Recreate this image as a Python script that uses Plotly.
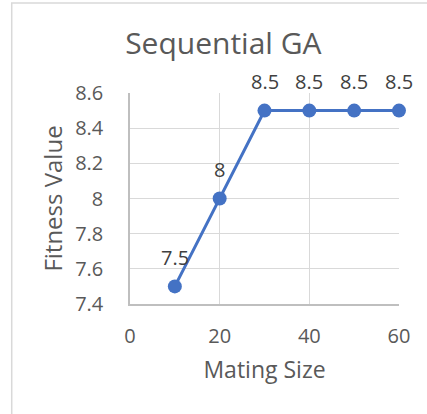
import plotly.graph_objects as go

mating_size = [10, 20, 30, 40, 50, 60]
fitness_value = [7.5, 8, 8.5, 8.5, 8.5, 8.5]
labels = ["7.5", "8", "8.5", "8.5", "8.5", "8.5"]
x_ticks = [0, 20, 40, 60]
y_ticks = [7.4, 7.6, 7.8, 8.0, 8.2, 8.4, 8.6]
y_tick_text = ["7.4", "7.6", "7.8", "8", "8.2", "8.4", "8.6"]

W, H = 427, 414
L, R, T, B = 129.5, 28, 93, 110
PW, PH = W - L - R, H - T - B

def px(x):
    return (x - L) / PW

def py(y):
    return (H - y - B) / PH

FONT = "Open Sans"

fig = go.Figure()
fig.add_trace(go.Scatter(
    x=mating_size, y=fitness_value,
    mode="lines+markers",
    line=dict(color="#4472C4", width=3),
    marker=dict(color="#4472C4", size=14),
    cliponaxis=False,
    showlegend=False,
))

annotations = [
    dict(x=xv, y=yv, text=t, xref="x", yref="y", showarrow=False,
         yshift=29, xanchor="center", yanchor="middle",
         font=dict(family=FONT, size=20, color="#404040"))
    for xv, yv, t in zip(mating_size, fitness_value, labels)
]

fig.update_layout(
    width=W, height=H,
    margin=dict(l=L, r=R, t=T, b=B),
    paper_bgcolor="white", plot_bgcolor="white",
    font=dict(family=FONT, color="#595959"),
    title=dict(text="Sequential GA", xref="paper", x=px(223), xanchor="center",
               yref="container", y=1 - 43 / H, yanchor="middle",
               font=dict(family=FONT, size=30, color="#595959")),
    xaxis=dict(
        range=[0, 60], tickvals=x_ticks, ticktext=[str(v) for v in x_ticks],
        showgrid=True, gridcolor="#d9d9d9", gridwidth=1.3,
        showline=True, linecolor="#bfbfbf", linewidth=1.5,
        zeroline=False, ticks="", ticklabelstandoff=13,
        tickfont=dict(family=FONT, size=20, color="#595959"),
        title=dict(text="Mating Size", standoff=14,
                   font=dict(family=FONT, size=23, color="#595959")),
    ),
    yaxis=dict(
        range=[7.4, 8.6], tickvals=y_ticks, ticktext=y_tick_text,
        showgrid=True, gridcolor="#d9d9d9", gridwidth=1.3,
        showline=True, linecolor="#bfbfbf", linewidth=1.5,
        zeroline=False, ticks="", ticklabelstandoff=21,
        tickfont=dict(family=FONT, size=20, color="#595959"),
        title=dict(text="Fitness Value", standoff=6,
                   font=dict(family=FONT, size=24, color="#595959")),
    ),
    annotations=annotations,
    shapes=[dict(type="rect", xref="paper", yref="paper",
                 x0=px(11), x1=px(440), y0=py(3), y1=py(430),
                 line=dict(color="#d9d9d9", width=1.5), layer="below")],
)

fig.write_html("out.html")
